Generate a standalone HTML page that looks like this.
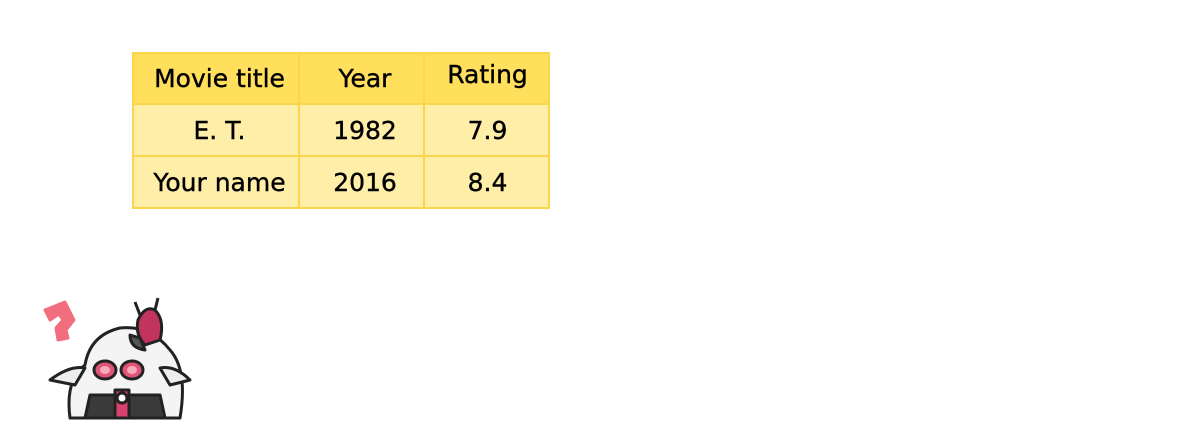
<!DOCTYPE html>
<html><head><meta charset="utf-8">
<style>
html,body{margin:0;padding:0;background:#fff;width:1185px;height:427px;overflow:hidden;position:relative}
table{position:absolute;left:132px;top:52px;border-collapse:collapse;font-family:"DejaVu Sans","Liberation Sans",sans-serif;font-size:25px;color:#000;-webkit-text-stroke:0.4px #000}
td,th{border:2px solid #fcd64a;text-align:center;padding:0;font-weight:normal;white-space:nowrap}
th{background:#ffdf5c;height:49px}
td{background:#ffeea8;height:50px}
.c1,.c2{padding-left:7px}
.c3{padding-left:2px}
</style></head><body>
<table>
<tr>
<th class="c1" style="width:157px">Movie title</th>
<th class="c2" style="width:116px">Year</th>
<th class="c3" style="width:121px"><span style="position:relative;top:-4px">Rating</span></th>
</tr>
<tr>
<td class="c1">E. T.</td>
<td class="c2">1982</td>
<td class="c3">7.9</td>
</tr>
<tr>
<td class="c1">Your name</td>
<td class="c2">2016</td>
<td class="c3">8.4</td>
</tr>
</table>
<svg style="position:absolute;left:30px;top:290px" width="180" height="135" viewBox="0 0 180 135">
<g stroke="#222" stroke-width="3" stroke-linejoin="round">
<path d="M15 20 L35 12 L44 30 L36 40 L38 48 L28 50 L26 38 L33 30 L29 24 L20 30 Z" fill="#f26d7d" stroke="#f26d7d"/>
<path d="M40 128 Q35 90 55 75 Q60 45 90 38 Q120 35 140 60 Q158 80 150 128 Z" fill="#f4f4f4"/>
<path d="M20 90 Q40 75 55 78 L45 95 Z" fill="#eee"/>
<path d="M160 90 Q145 75 130 78 L140 95 Z" fill="#eee"/>
<path d="M55 128 L60 105 L130 105 L135 128 Z" fill="#3a3a3a"/>
<rect x="85" y="100" width="14" height="28" fill="#d9416f"/>
<circle cx="92" cy="108" r="5" fill="#fff"/>
<ellipse cx="75" cy="80" rx="11" ry="9" fill="#e05577"/>
<ellipse cx="102" cy="80" rx="11" ry="9" fill="#e05577"/>
<ellipse cx="75" cy="80" rx="5" ry="4" fill="#f7aabb" stroke="none"/>
<ellipse cx="102" cy="80" rx="5" ry="4" fill="#f7aabb" stroke="none"/>
<path d="M108 30 Q115 15 125 20 Q135 30 130 50 L115 55 Q105 45 108 30 Z" fill="#c2335e"/>
<path d="M110 25 L105 12 M125 20 L128 8" fill="none"/>
<path d="M100 45 Q100 58 115 60 L110 48 Z" fill="#555"/>
</g>
</svg>
</body></html>
